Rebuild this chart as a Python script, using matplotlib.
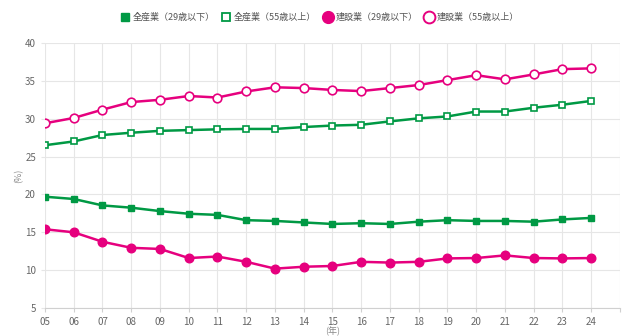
import matplotlib
matplotlib.use("Agg")
import matplotlib.pyplot as plt
from matplotlib.lines import Line2D

plt.rcParams['font.family'] = ['Noto Sans CJK JP', 'DejaVu Sans']

years = list(range(5, 25))
year_labels = [f"{y:02d}" for y in years]

all_young = [19.7, 19.4, 18.55, 18.25, 17.8, 17.45, 17.3, 16.6, 16.5, 16.3,
             16.1, 16.2, 16.1, 16.4, 16.6, 16.5, 16.5, 16.4, 16.7, 16.9]
all_old = [26.5, 27.0, 27.85, 28.15, 28.4, 28.5, 28.6, 28.65, 28.65, 28.9,
           29.1, 29.2, 29.65, 30.05, 30.3, 30.95, 30.95, 31.45, 31.85, 32.35]
con_young = [15.4, 15.0, 13.75, 12.95, 12.8, 11.6, 11.8, 11.1, 10.2, 10.45,
             10.55, 11.1, 11.0, 11.1, 11.55, 11.6, 11.95, 11.6, 11.55, 11.6]
con_old = [29.4, 30.1, 31.2, 32.2, 32.5, 33.0, 32.8, 33.6, 34.15, 34.05,
           33.8, 33.65, 34.05, 34.45, 35.1, 35.75, 35.2, 35.85, 36.55, 36.65]

labels = ["全産業（29歳以下）", "全産業（55歳以上）", "建設業（29歳以下）", "建設業（55歳以上）"]
green = "#009944"
pink = "#e6007e"

fig = plt.figure(figsize=(6.4, 3.36), dpi=100)
ax = fig.add_axes([0.0703, 0.0833, 0.8984, 0.7887])

ax.plot(years, all_young, color=green, lw=1.8, marker='s', ms=4.8,
        mfc=green, mec=green, zorder=3)
ax.plot(years, all_old, color=green, lw=1.8, marker='s', ms=4.8,
        mfc='white', mec=green, mew=1.2, zorder=3)
ax.plot(years, con_young, color=pink, lw=1.8, marker='o', ms=6.2,
        mfc=pink, mec=pink, zorder=3)
ax.plot(years, con_old, color=pink, lw=1.8, marker='o', ms=6.2,
        mfc='white', mec=pink, mew=1.2, zorder=3)

ax.set_xlim(5, 25)
ax.set_ylim(5, 40)
ax.set_xticks(years + [25])
ax.set_xticklabels(year_labels + [""])
ax.set_yticks(range(5, 41, 5))

ax.grid(True, color="#e6e6e6", lw=0.8)
ax.set_axisbelow(True)
for s in ['top', 'left', 'right']:
    ax.spines[s].set_visible(False)
ax.spines['bottom'].set_color("#d0d0d0")
ax.tick_params(axis='both', labelsize=7, colors="#666666", length=3, width=0.8)
ax.tick_params(axis='x', color="#d0d0d0")
ax.tick_params(axis='y', color="#e6e6e6")

ax.set_ylabel("(%)", fontsize=6.5, color="#888888", labelpad=1)
ax.set_xlabel("(年)", fontsize=6.5, color="#888888", labelpad=0)

handles = [
    Line2D([], [], ls='none', marker='s', ms=6, mfc=green, mec=green),
    Line2D([], [], ls='none', marker='s', ms=6, mfc='white', mec=green, mew=1.3),
    Line2D([], [], ls='none', marker='o', ms=8.5, mfc=pink, mec=pink),
    Line2D([], [], ls='none', marker='o', ms=8.5, mfc='white', mec=pink, mew=1.4),
]
fig.legend(handles, labels, loc='center', bbox_to_anchor=(0.5, 0.948), ncol=4,
           frameon=False, fontsize=6.5, handletextpad=0.4, columnspacing=0.8,
           labelcolor="#555555", handlelength=0.9)

fig.savefig("out.png", dpi=100)
